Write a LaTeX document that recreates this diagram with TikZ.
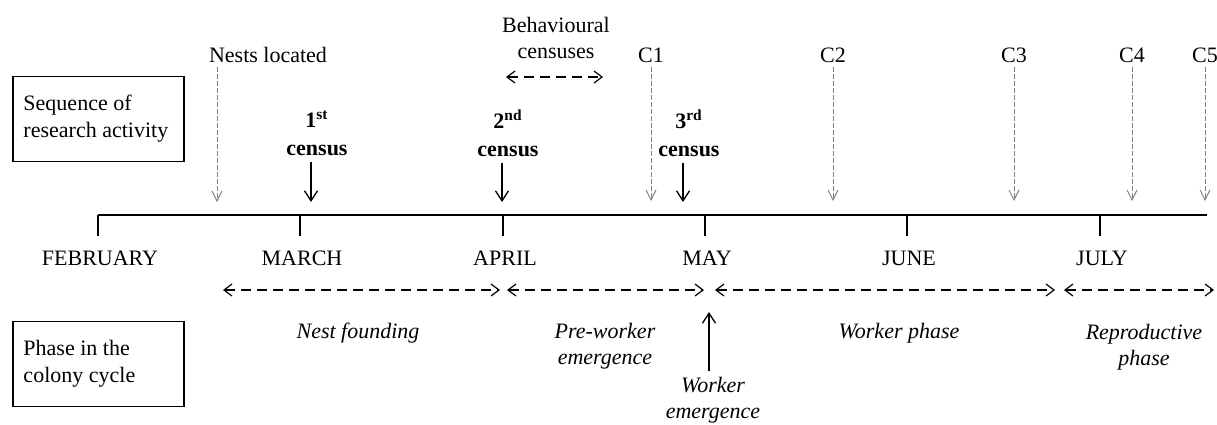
\documentclass[tikz,border=0pt]{standalone}
\usepackage{fontspec}
\setmainfont{Liberation Serif}
\usetikzlibrary{positioning, arrows.meta}
\definecolor{mgray}{RGB}{128,128,128}

\begin{document}
\begin{tikzpicture}[x=0.5pt, y=-0.5pt,
    font=\fontsize{11}{13}\selectfont,
    every node/.style={inner sep=0pt, align=center},
    sidebox/.style={draw, line width=0.8pt, text width=75pt, align=flush left,
      inner xsep=5.25pt, minimum height=42.5pt, font=\fontsize{11}{13.5}\selectfont},
    census/.style={font=\fontsize{11}{14}\selectfont\bfseries},
    phaselbl/.style={font=\fontsize{11}{13}\selectfont\itshape},
    % solid arrows (censuses, worker emergence)
    censusarr/.style={line width=0.65pt, shorten <=3pt,
      -{Straight Barb[length=5pt, width=6.5pt]}},
    % grey dotted arrows (nests located, C1--C5)
    grayarr/.style={draw=mgray, line width=0.5pt, dash pattern=on 2.5pt off 1pt,
      shorten <=2pt, -{Straight Barb[length=5pt, width=5pt]}},
    % dashed double arrows (phases)
    phasearr/.style={line width=0.6pt, dash pattern=on 5pt off 3pt,
      {Straight Barb[length=4pt, width=6pt]}-{Straight Barb[length=4pt, width=6pt]}}]

  \useasboundingbox (0,0) rectangle (1217,424);

  % left-hand boxes
  \node[sidebox] (seq) at (98.5,119) {Sequence of\\research activity};
  \node[sidebox] (phase) at (98.5,364) {Phase in the\\colony cycle};

  % time line with months
  \coordinate (t0) at (98,215);
  \coordinate (t1) at (1207,215);
  \draw[line width=1pt] (t0) -- (t1);
  \foreach \m/\x [count=\i] in {FEBRUARY/98, MARCH/300, APRIL/503, MAY/705, JUNE/907, JULY/1100} {
    \coordinate (tick\i) at (\x,215);
    \node (month\i) at (\x+2,258) {\m};
    \draw[line width=0.8pt] (tick\i) -- (tick\i |- 0,236);
  }

  % research activity
  \node (nests) at (268,55) {Nests located};
  \coordinate (nestsend) at (217,202);
  \draw[grayarr] (nestsend |- nests.south) -- (nestsend);

  \node (behav) at (556,38) {Behavioural\\censuses};
  \coordinate (behavl) at (506,77);
  \coordinate (behavr) at (603,77);
  \draw[phasearr] (behavl) -- (behavr);

  \foreach \n/\x in {1/651, 2/833, 3/1014, 4/1132, 5/1205} {
    \node (c\n) at (\x,55) {C\n};
    \coordinate (c\n end) at (\x,201);
    \draw[grayarr] (c\n) -- (c\n end);
  }

  \node[census] (cen1) at (317,133) {1\textsuperscript{st}\\census};
  \node[census] (cen2) at (508,133) {2\textsuperscript{nd}\\census};
  \node[census] (cen3) at (689,133) {3\textsuperscript{rd}\\census};
  \coordinate (cen1end) at (311,202);
  \coordinate (cen2end) at (502,202);
  \coordinate (cen3end) at (683,202);
  \foreach \n in {1,2,3}
    \draw[censusarr] (cen\n end |- cen\n.south) -- (cen\n end);

  % colony cycle phases
  \coordinate (p0) at (223,290);  \coordinate (p1) at (500,290);
  \coordinate (p2) at (507,290);  \coordinate (p3) at (704,290);
  \coordinate (p4) at (715,290);  \coordinate (p5) at (1055,290);
  \coordinate (p6) at (1064,290); \coordinate (p7) at (1214,290);
  \draw[phasearr] (p0) -- (p1);
  \draw[phasearr] (p2) -- (p3);
  \draw[phasearr] (p4) -- (p5);
  \draw[phasearr] (p6) -- (p7);

  \node[phaselbl] (found) at (358,333) {Nest founding};
  \node[phaselbl] (prew) at (605,346) {Pre-worker\\emergence};
  \node[phaselbl] (workp) at (899,333) {Worker phase};
  \node[phaselbl] (repro) at (1144,347) {Reproductive\\phase};

  \node[phaselbl] (wem) at (713,400) {Worker\\emergence};
  \coordinate (wemtip) at (709,312);
  \draw[censusarr] (wemtip |- wem.north) -- (wemtip);
\end{tikzpicture}
\end{document}
